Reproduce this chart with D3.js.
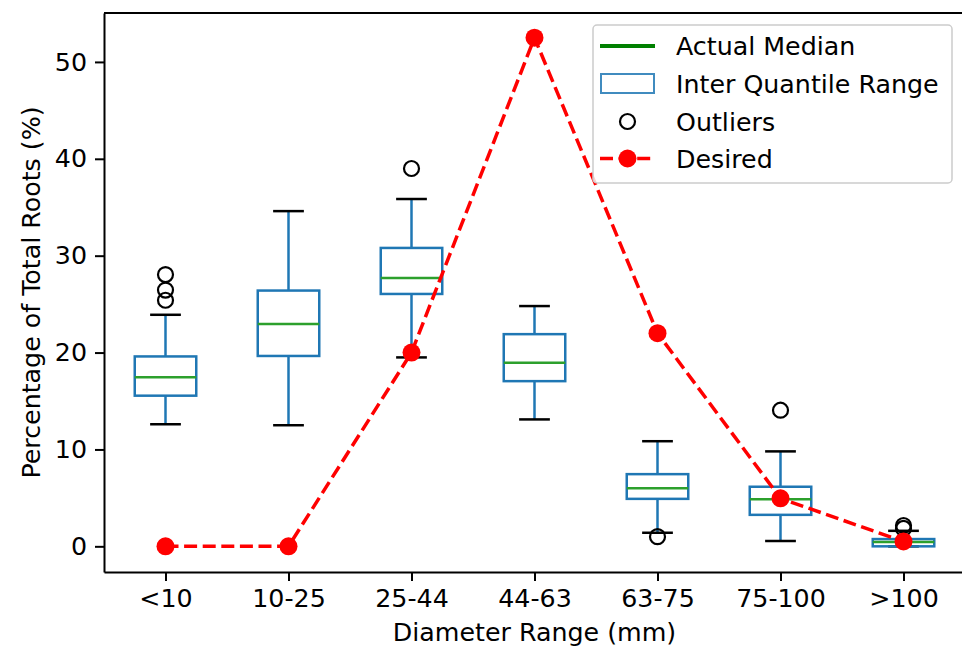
<!DOCTYPE html>
<html>
<head>
<meta charset="utf-8">
<script src="https://cdn.jsdelivr.net/npm/d3@7"></script>
<style>
  body { margin: 0; background: #fff; }
  svg { display: block; font-family: "DejaVu Sans", sans-serif; }
</style>
</head>
<body>
<svg id="chart" width="962" height="648"></svg>
<script>
// --- data ---
const categories = ["<10", "10-25", "25-44", "44-63", "63-75", "75-100", ">100"];
const whiskerLow = [12.6, 12.5, 19.5, 13.1, 1.4, 0.55, 0.0];
const q1 = [15.55, 19.65, 26.05, 17.05, 4.9, 3.25, 0.0];
const medians = [17.45, 22.95, 27.7, 18.95, 6.0, 4.85, 0.45];
const q3 = [19.6, 26.4, 30.8, 21.9, 7.45, 6.15, 0.75];
const whiskerHigh = [23.9, 34.6, 35.85, 24.8, 10.85, 9.8, 1.6];
const outliers = [[28.05, 26.45, 25.4], [], [39.0], [], [1.0], [14.05], [2.15, 1.85]];
const desired = [0, 0, 20, 52.5, 22, 4.95, 0.5];
const yTicks = [0, 10, 20, 30, 40, 50];

const legendItems = ["Actual Median", "Inter Quantile Range", "Outliers", "Desired"];

const svg = d3.select("#chart");
const margin = { left: 104, top: 13, right: 965, bottom: 572 };

const x = d3.scalePoint()
  .domain(categories)
  .range([margin.left, margin.right])
  .padding(0.5);
const step = x.step();
const y = d3.scaleLinear().domain([-2.65, 55.05]).range([margin.bottom, margin.top]);

const blue = "#1f77b4";
const medGreen = "#2ca02c";
const red = "#ff0000";
const fontSize = 25.3;

// --- boxes ---
const boxW = step * 0.5;
const capW = step * 0.25;
const g = svg.append("g");

categories.forEach((c, i) => {
  const cx = x(c);
  // whiskers
  g.append("line").attr("x1", cx).attr("x2", cx)
    .attr("y1", y(q3[i])).attr("y2", y(whiskerHigh[i]))
    .attr("stroke", blue).attr("stroke-width", 2.5);
  g.append("line").attr("x1", cx).attr("x2", cx)
    .attr("y1", y(q1[i])).attr("y2", y(whiskerLow[i]))
    .attr("stroke", blue).attr("stroke-width", 2.5);
  // caps
  [whiskerHigh[i], whiskerLow[i]].forEach(v => {
    g.append("line").attr("x1", cx - capW / 2).attr("x2", cx + capW / 2)
      .attr("y1", y(v)).attr("y2", y(v))
      .attr("stroke", "#000").attr("stroke-width", 2.5);
  });
  // box
  g.append("rect")
    .attr("x", cx - boxW / 2).attr("width", boxW)
    .attr("y", y(q3[i])).attr("height", y(q1[i]) - y(q3[i]))
    .attr("fill", "none").attr("stroke", blue).attr("stroke-width", 2.5);
  // median
  g.append("line").attr("x1", cx - boxW / 2).attr("x2", cx + boxW / 2)
    .attr("y1", y(medians[i])).attr("y2", y(medians[i]))
    .attr("stroke", medGreen).attr("stroke-width", 2.5);
  // outliers
  outliers[i].forEach(v => {
    g.append("circle").attr("cx", cx).attr("cy", y(v)).attr("r", 7.5)
      .attr("fill", "none").attr("stroke", "#000").attr("stroke-width", 2.2);
  });
});

// --- desired line ---
const line = d3.line().x((d, i) => x(categories[i])).y(d => y(d));
svg.append("path")
  .datum(desired)
  .attr("d", line)
  .attr("fill", "none")
  .attr("stroke", red)
  .attr("stroke-width", 3.5)
  .attr("stroke-dasharray", "13,5.6");
svg.selectAll(".desired-dot")
  .data(desired)
  .enter()
  .append("circle")
  .attr("class", "desired-dot")
  .attr("cx", (d, i) => x(categories[i]))
  .attr("cy", d => y(d))
  .attr("r", 9)
  .attr("fill", red);

// --- axes ---
const xAxis = svg.append("g")
  .attr("transform", `translate(0,${margin.bottom})`)
  .call(d3.axisBottom(x).tickSize(9).tickPadding(8).tickSizeOuter(0));
const yAxis = svg.append("g")
  .attr("transform", `translate(${margin.left},0)`)
  .call(d3.axisLeft(y).tickValues(yTicks).tickSize(9).tickPadding(8).tickSizeOuter(0));

[xAxis, yAxis].forEach(a => {
  a.select(".domain").attr("stroke-width", 2);
  a.selectAll(".tick line").attr("stroke-width", 2);
  a.selectAll(".tick text")
    .attr("font-size", fontSize)
    .attr("font-family", "DejaVu Sans")
    .attr("fill", "#000");
});

// top and right spines (right one falls just off the image)
svg.append("line")
  .attr("x1", margin.left).attr("x2", margin.right)
  .attr("y1", margin.top).attr("y2", margin.top)
  .attr("stroke", "#000").attr("stroke-width", 2);
svg.append("line")
  .attr("x1", margin.right).attr("x2", margin.right)
  .attr("y1", margin.top).attr("y2", margin.bottom)
  .attr("stroke", "#000").attr("stroke-width", 2);

// axis labels
svg.append("text")
  .attr("x", (margin.left + margin.right) / 2)
  .attr("y", 641)
  .attr("text-anchor", "middle")
  .attr("font-size", fontSize)
  .text("Diameter Range (mm)");
svg.append("text")
  .attr("transform", `translate(40,${(margin.top + margin.bottom) / 2}) rotate(-90)`)
  .attr("text-anchor", "middle")
  .attr("font-size", fontSize)
  .text("Percentage of Total Roots (%)");

// --- legend ---
const legend = svg.append("g").attr("transform", "translate(593,25)");
legend.append("rect")
  .attr("width", 359).attr("height", 158)
  .attr("rx", 4)
  .attr("fill", "#fff").attr("fill-opacity", 0.8)
  .attr("stroke", "#cccccc").attr("stroke-width", 1.5);

const rowY = [21, 58.5, 96.5, 133.5];
const hx0 = 7, hx1 = 62, hxm = (hx0 + hx1) / 2;

// Actual Median
legend.append("line").attr("x1", hx0).attr("x2", hx1)
  .attr("y1", rowY[0]).attr("y2", rowY[0])
  .attr("stroke", "green").attr("stroke-width", 4);
// IQR
legend.append("rect").attr("x", hx0 + 1).attr("width", hx1 - hx0 - 2)
  .attr("y", rowY[1] - 9.5).attr("height", 19)
  .attr("fill", "none").attr("stroke", blue).attr("stroke-opacity", 0.85).attr("stroke-width", 2);
// Outliers
legend.append("circle").attr("cx", hxm).attr("cy", rowY[2]).attr("r", 7.5)
  .attr("fill", "none").attr("stroke", "#000").attr("stroke-width", 2.2);
// Desired
legend.append("line").attr("x1", hx0).attr("x2", hx1)
  .attr("y1", rowY[3]).attr("y2", rowY[3])
  .attr("stroke", red).attr("stroke-width", 3.5).attr("stroke-dasharray", "13,5.6");
legend.append("circle").attr("cx", hxm).attr("cy", rowY[3]).attr("r", 9).attr("fill", red);

legend.selectAll(".legend-text")
  .data(legendItems)
  .enter()
  .append("text")
  .attr("class", "legend-text")
  .attr("x", 83)
  .attr("y", (d, i) => rowY[i])
  .attr("dy", "0.36em")
  .attr("font-size", fontSize)
  .text(d => d);
</script>
</body>
</html>
